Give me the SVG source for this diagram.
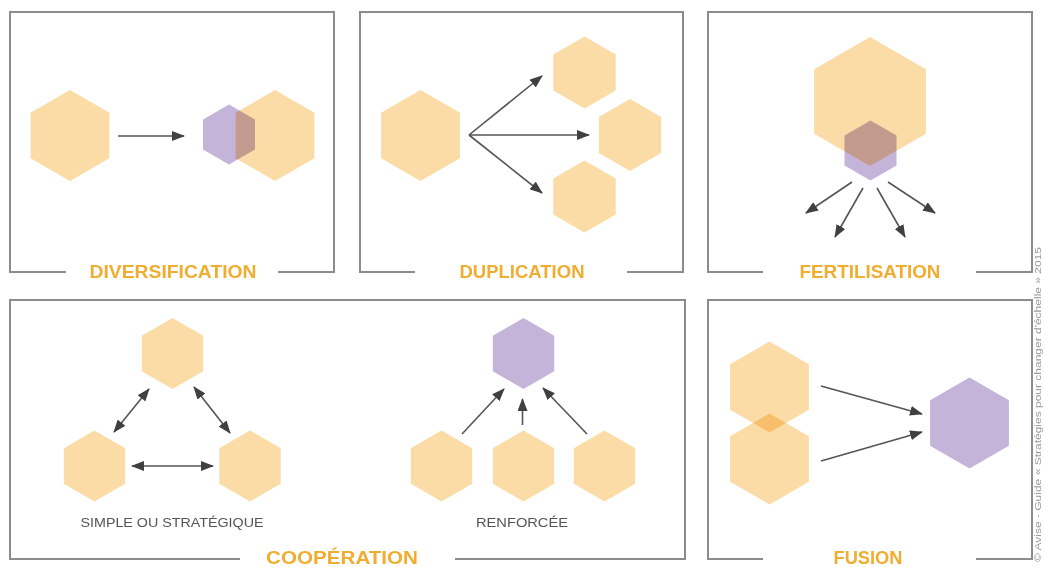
<svg xmlns="http://www.w3.org/2000/svg" width="1045" height="567" viewBox="0 0 1045 567">
  <style>
    .frame { fill: none; stroke: #8c8c8c; stroke-width: 2; }
    .or { fill: #fbdca6; mix-blend-mode: multiply; }
    .pu { fill: #c5b4da; mix-blend-mode: multiply; }
    .title { font-family: "Liberation Sans", Arial, sans-serif; font-weight: bold; font-size: 18px; fill: #f0ad30; text-anchor: middle; }
    .sub { font-family: "Liberation Sans", Arial, sans-serif; font-size: 13px; fill: #555555; text-anchor: middle; }
    .credit { font-family: "Liberation Sans", Arial, sans-serif; font-size: 9px; fill: #9a9a9a; }
    .arr { fill: none; stroke: #555555; stroke-width: 1.6; marker-end: url(#head); }
    .arr2 { fill: none; stroke: #555555; stroke-width: 1.6; marker-end: url(#head); marker-start: url(#head); }
  </style>
  <defs>
    <marker id="head" viewBox="0 0 13 10" refX="12" refY="5" markerWidth="13" markerHeight="10" markerUnits="userSpaceOnUse" orient="auto-start-reverse">
      <path d="M0,0 L13,5 L0,10 Z" fill="#404040"/>
    </marker>
  </defs>
  <rect width="1045" height="567" fill="#ffffff"/>

  <!-- Panel frames, open at the bottom for the titles -->
  <g id="frames">
    <path class="frame" d="M66,272 H10 V12 H334 V272 H278"/>
    <path class="frame" d="M415,272 H360 V12 H683 V272 H627"/>
    <path class="frame" d="M763,272 H708 V12 H1032 V272 H976"/>
    <path class="frame" d="M240,559 H10 V300 H685 V559 H455"/>
    <path class="frame" d="M763,559 H708 V300 H1032 V559 H976"/>
  </g>

  <!-- Diversification -->
  <g id="diversification">
    <polygon class="or" points="70,90 109.4,112.75 109.4,158.25 70,181 30.6,158.25 30.6,112.75"/>
    <polygon class="pu" points="229,104.5 255,119.5 255,149.5 229,164.5 203,149.5 203,119.5"/>
    <polygon class="or" points="275,90 314.4,112.75 314.4,158.25 275,181 235.6,158.25 235.6,112.75"/>
    <text class="title" x="173" y="278" textLength="167" lengthAdjust="spacingAndGlyphs">DIVERSIFICATION</text>
  </g>

  <!-- Duplication -->
  <g id="duplication">
    <polygon class="or" points="420.5,90 459.9,112.75 459.9,158.25 420.5,181 381.1,158.25 381.1,112.75"/>
    <polygon class="or" points="584.5,36.5 615.7,54.5 615.7,90.5 584.5,108.5 553.3,90.5 553.3,54.5"/>
    <polygon class="or" points="630,99 661.2,117 661.2,153 630,171 598.8,153 598.8,117"/>
    <polygon class="or" points="584.5,160.5 615.7,178.5 615.7,214.5 584.5,232.5 553.3,214.5 553.3,178.5"/>
    <text class="title" x="522" y="278" textLength="125" lengthAdjust="spacingAndGlyphs">DUPLICATION</text>
  </g>

  <!-- Fertilisation -->
  <g id="fertilisation">
    <polygon class="or" points="870,37 925.9,69.25 925.9,133.75 870,166 814.1,133.75 814.1,69.25"/>
    <polygon class="pu" points="870.5,120.5 896.5,135.5 896.5,165.5 870.5,180.5 844.5,165.5 844.5,135.5"/>
    <text class="title" x="870" y="278" textLength="141" lengthAdjust="spacingAndGlyphs">FERTILISATION</text>
  </g>

  <!-- Coopération -->
  <g id="cooperation">
    <polygon class="or" points="172.5,318 203.2,335.75 203.2,371.25 172.5,389 141.8,371.25 141.8,335.75"/>
    <polygon class="or" points="94.5,430.5 125.2,448.25 125.2,483.75 94.5,501.5 63.8,483.75 63.8,448.25"/>
    <polygon class="or" points="250,430.5 280.7,448.25 280.7,483.75 250,501.5 219.3,483.75 219.3,448.25"/>
    <polygon class="pu" points="523.5,318 554.2,335.75 554.2,371.25 523.5,389 492.8,371.25 492.8,335.75"/>
    <polygon class="or" points="441.5,430.5 472.2,448.25 472.2,483.75 441.5,501.5 410.8,483.75 410.8,448.25"/>
    <polygon class="or" points="523.5,430.5 554.2,448.25 554.2,483.75 523.5,501.5 492.8,483.75 492.8,448.25"/>
    <polygon class="or" points="604.5,430.5 635.2,448.25 635.2,483.75 604.5,501.5 573.8,483.75 573.8,448.25"/>
    <text class="sub" x="172" y="527" textLength="183" lengthAdjust="spacingAndGlyphs">SIMPLE OU STRATÉGIQUE</text>
    <text class="sub" x="522" y="527" textLength="92" lengthAdjust="spacingAndGlyphs">RENFORCÉE</text>
    <text class="title" x="342" y="564" textLength="152" lengthAdjust="spacingAndGlyphs">COOPÉRATION</text>
  </g>

  <!-- Fusion -->
  <g id="fusion">
    <polygon class="or" points="769.5,341.5 808.9,364.25 808.9,409.75 769.5,432.5 730.1,409.75 730.1,364.25"/>
    <polygon class="or" points="769.5,413.5 808.9,436.25 808.9,481.75 769.5,504.5 730.1,481.75 730.1,436.25"/>
    <polygon class="pu" points="969.5,377.5 1008.9,400.25 1008.9,445.75 969.5,468.5 930.1,445.75 930.1,400.25"/>
    <text class="title" x="868" y="564" textLength="69" lengthAdjust="spacingAndGlyphs">FUSION</text>
  </g>

  <!-- Connectors -->
  <g id="connectors">
    <line class="arr" x1="118" y1="136" x2="184" y2="136"/>
    <line class="arr" x1="469" y1="135" x2="542" y2="76"/>
    <line class="arr" x1="469" y1="135" x2="589" y2="135"/>
    <line class="arr" x1="469" y1="135" x2="542" y2="193"/>
    <line class="arr" x1="852" y1="182" x2="806" y2="213"/>
    <line class="arr" x1="863" y1="188" x2="835" y2="237"/>
    <line class="arr" x1="877" y1="188" x2="905" y2="237"/>
    <line class="arr" x1="888" y1="182" x2="935" y2="213"/>
    <line class="arr2" x1="114" y1="432" x2="149" y2="389"/>
    <line class="arr2" x1="194" y1="387" x2="230" y2="433"/>
    <line class="arr2" x1="132" y1="466" x2="213" y2="466"/>
    <line class="arr" x1="462" y1="434" x2="504" y2="389"/>
    <line class="arr" x1="522.5" y1="425" x2="522.5" y2="399"/>
    <line class="arr" x1="587" y1="434" x2="543" y2="388"/>
    <line class="arr" x1="821" y1="386" x2="922" y2="414"/>
    <line class="arr" x1="821" y1="461" x2="922" y2="432"/>
  </g>

  <!-- Credit line along the right edge -->
  <text class="credit" transform="translate(1041,562) rotate(-90)" textLength="315" lengthAdjust="spacingAndGlyphs">© Avise - Guide « Stratégies pour changer d'échelle » 2015</text>
</svg>
